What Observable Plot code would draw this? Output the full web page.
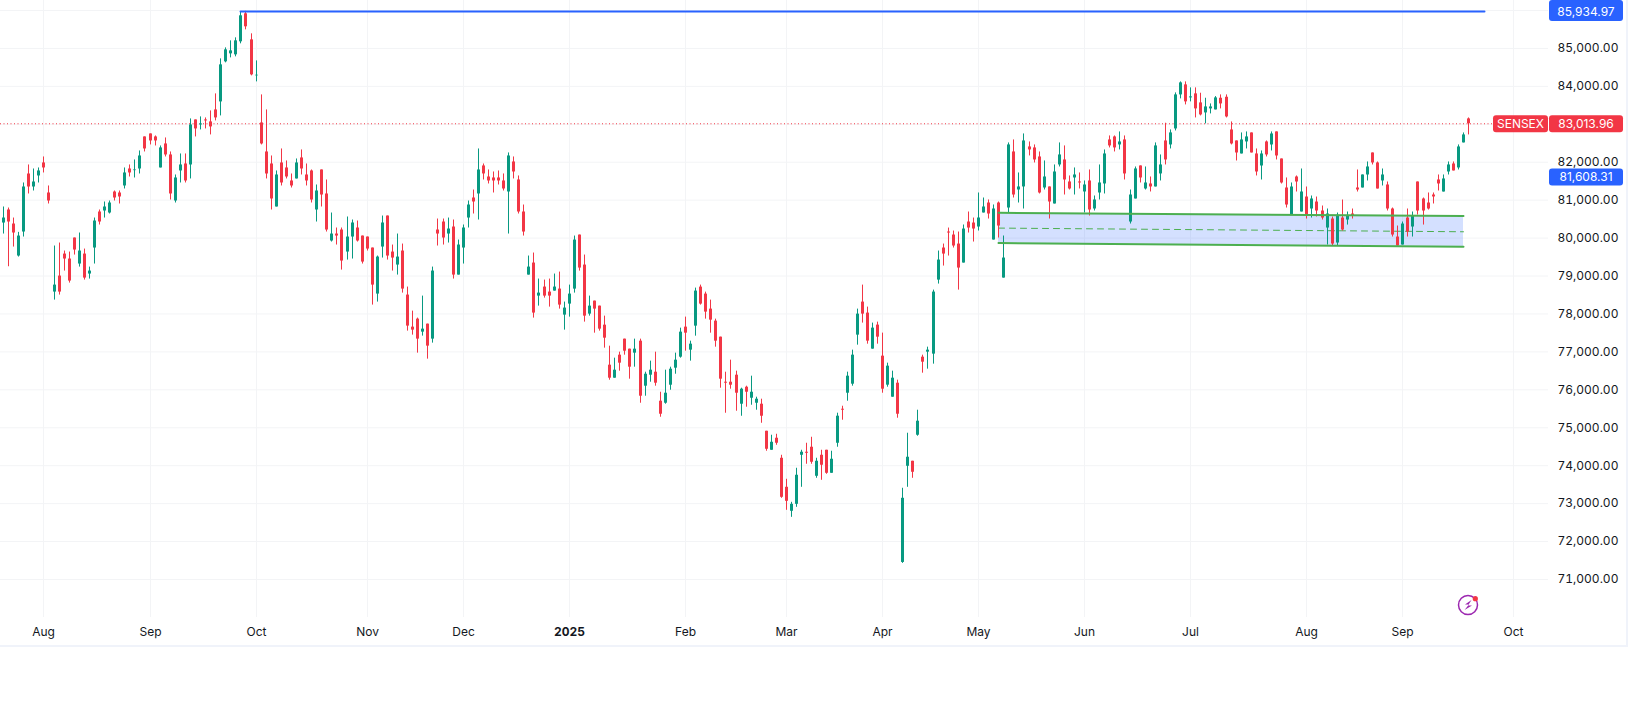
<!DOCTYPE html>
<html>
<head>
<meta charset="utf-8">
<script src="https://cdn.jsdelivr.net/npm/d3@7"></script>
<script src="https://cdn.jsdelivr.net/npm/@observablehq/plot@0.6"></script>
<style>
  body { margin: 0; background: #fff; }
  svg { display: block; }
</style>
</head>
<body>
<div id="chart"></div>
<script>
// daily SENSEX candles, one row of ten bars per line
const opens = [
  80397,80741,80371,79527,80160,81690,81347,81638,81981,81189,
  78577,78999,79579,79448,80002,79316,79579,79052,79738,80688,
  80714,80661,81215,81189,81374,81822,81778,81822,82667,82746,
  82667,81849,82482,82192,80978,81770,81954,81928,83115,82983,
  83115,83063,83379,83590,84646,84857,84831,85174,85913,85226,
  84277,83036,82271,81954,80820,81981,81849,81506,81559,82113,
  81664,81770,80741,81796,81163,79923,80107,80213,79632,80028,
  80266,80054,80028,79738,78524,79764,80582,79632,79289,79659,
  78498,77653,77864,77521,77732,77337,80213,80424,80107,80292,
  79025,79738,80529,81057,81163,81902,81611,81585,81585,81506,
  81216,82007,81532,80688,79025,79342,78471,78709,78577,78603,
  78656,77970,78260,78655,80080,79289,77996,78339,78207,77705,
  76650,76307,76914,77336,77072,76967,77283,76096,76386,76465,
  75700,75647,76122,76571,76861,77653,77046,77679,78708,78524,
  78128,77811,77389,76201,76201,76386,75621,76069,75779,75647,
  75621,74908,74407,74724,74196,73431,72798,72982,74275,74355,
  74487,73721,74275,74407,73800,74592,75489,75911,76149,77442,
  78313,78023,77073,77706,76888,76123,75806,76175,71450,73985,
  74117,74803,76861,76993,76941,78893,79738,80160,80081,79843,
  79342,80424,80397,80292,80662,80925,79949,80925,78946,80793,
  82271,81268,81348,82403,82377,82139,81321,81348,80899,81928,
  82060,81480,81585,81480,81216,81506,80767,81189,81427,82588,
  82667,82456,82588,80424,81031,81902,81295,81427,81348,81691,
  82561,82456,82878,83775,84039,83696,83802,83564,83300,83406,
  83379,83687,83713,82851,82561,82218,82535,82772,82218,81901,
  82535,82456,82799,82086,81321,80608,81611,80688,81083,80767,
  80951,80714,80265,80503,79870,80529,80476,80635,81321,81321,
  81664,82244,81981,81506,81400,80767,80028,79817,80529,80292,
  81479,81031,80925,81136,81532,81215,81743,81954,81849,82509,83142
];
const highs = [
  80820,80793,80529,80151,81453,81928,81822,81849,82139,81374,
  79791,79870,79659,79632,80002,80134,79711,79236,80529,80741,
  80952,80978,81242,81242,81849,81928,82060,82297,82667,82746,
  82693,82429,82640,82271,81664,82218,82218,83142,83115,83195,
  83168,83353,83802,84725,85015,85200,85279,85965,85978,85385,
  84672,83775,83379,82165,81770,82350,82034,81690,82086,82324,
  81954,81796,81400,81796,81532,80661,80266,80266,80556,80477,
  80450,80054,80028,79738,79527,80582,80582,79817,80107,79843,
  78709,78075,77891,78471,77732,79236,80503,80503,80529,80477,
  79949,80345,80978,81268,82350,81954,81796,81743,81770,81691,
  82245,82139,81638,80872,79527,79606,78920,78893,78920,79052,
  79104,78313,78761,80054,80080,79553,78471,78339,78207,77943,
  77151,76835,76993,77336,77072,77336,77336,76465,76756,76993,
  75937,76518,76597,76967,77626,77917,77283,78682,78761,78576,
  78365,77864,77389,76465,76782,76492,76043,76096,76360,75806,
  75753,74908,74803,74829,74275,73642,73035,73932,74407,74592,
  74750,74196,74407,74407,74381,75384,75568,76466,77046,78128,
  78761,78181,77759,77785,77495,76703,76492,76255,73405,74856,
  74117,75463,76914,77125,78629,79659,79843,80265,80186,80160,
  80345,80688,80529,81189,81057,81005,80873,80952,80055,82509,
  82588,81717,82746,82535,82456,82271,82034,81348,81928,82509,
  82430,81638,81849,81717,81506,81796,81110,81928,82324,82693,
  82693,82799,82693,81268,81875,81902,81875,81611,82509,82192,
  83028,82852,83828,84118,84118,83960,83960,83819,83687,83537,
  83731,83775,83775,83062,82561,82772,82799,82772,82350,82297,
  82561,82799,82799,82086,81585,81453,81638,81822,81347,81110,
  81083,80846,80767,80556,80661,81004,80688,80767,81796,81664,
  82007,82244,82007,81822,81479,80793,80318,80424,80767,80688,
  81479,81057,81189,81189,81664,81664,82007,82007,82456,82772,83168
];
const lows = [
  80107,79245,79764,79500,80028,81163,81242,81453,81717,80899,
  78366,78498,79131,78814,79553,79236,78893,78920,79316,80345,
  80529,80635,80978,80899,81295,81611,81585,81690,82271,82456,
  82429,81849,82139,81004,80925,81453,81453,81559,82667,82852,
  82878,82720,83089,83221,84620,84751,84778,85121,85490,84277,
  84118,82456,81559,80741,80820,81374,81559,81321,81559,81664,
  81374,80925,80424,80820,80160,79896,79817,79157,79421,79448,
  79896,79316,79659,78234,78313,79474,79421,79131,79025,78550,
  77548,77442,76967,77416,76809,77231,79791,79817,79870,78920,
  79025,79316,80266,80635,80477,81532,81427,81189,81400,81242,
  80107,81559,80635,80054,79025,77891,78207,78418,78181,78603,
  78128,77574,77917,78550,79130,77785,77943,77494,77547,77099,
  76254,76307,76492,76914,76281,76597,75647,75832,76201,76096,
  75278,75621,75990,76412,76835,77019,76756,77415,78233,77864,
  77494,77125,76043,75383,76017,75436,75304,75542,75594,75463,
  75119,74381,74407,74539,73140,72824,72639,72903,73431,74038,
  74038,73668,73616,73774,73800,74487,75199,75700,76096,77178,
  77759,77204,77073,77204,75911,76070,75806,75252,71425,73431,
  73668,74777,76439,76545,76677,78788,79263,79527,79738,78629,
  79342,80134,79896,80187,80662,80503,79949,80002,78946,80662,
  81057,80925,80767,82166,81981,81163,81268,80503,80899,81875,
  81136,81268,81136,81295,80662,80582,80714,81005,81163,82377,
  82271,82324,81532,80371,81031,81453,81268,81216,81348,81506,
  81928,82350,82825,83670,83511,83591,83168,83221,83010,83274,
  83379,83406,83168,82456,82033,82218,82350,82244,81638,81532,
  82139,82297,82060,81426,80793,80608,81215,80688,80503,80529,
  80556,80476,79817,79790,79790,80186,80344,80503,81215,81321,
  81506,81928,81294,81374,80714,80028,79790,79817,80028,80028,
  80608,80344,80740,80899,81242,81215,81664,81770,81796,82509,82720
];
const closes = [
  80529,80424,80134,80054,81347,81347,81479,81770,81849,80978,
  78761,78577,79448,78867,79685,79659,78946,79131,80450,80424,
  80820,80925,81057,81084,81717,81717,81796,82165,82350,82561,
  82561,82377,82192,81163,81585,81928,81506,82983,82878,83010,
  83089,82931,83168,84567,84963,84936,85200,85860,85570,84303,
  84294,82482,81690,81031,81664,81453,81611,81374,81981,81822,
  81506,81004,81242,81136,80213,80107,80054,79395,80028,80398,
  79923,79368,79711,78761,79500,80398,79527,79474,79500,78656,
  77680,77574,77337,77600,77152,79131,80107,80002,80239,79025,
  79817,80266,80872,80952,81796,81691,81506,81506,81506,81295,
  82166,81743,80688,80160,79236,78023,78550,78471,78471,78709,
  78234,78155,78524,79948,79210,77943,78207,78128,77600,77362,
  76307,76518,76703,77019,76597,77072,75832,76412,76518,76175,
  75357,75911,76544,76782,77521,77494,77204,78603,78260,78049,
  77837,77283,76281,76175,76122,75911,76017,75937,75937,75753,
  75304,74433,74618,74592,73167,73061,72982,73748,74355,74328,
  74091,74117,74012,73800,74170,75305,75463,76360,76914,77996,
  77996,77284,77627,77389,76017,76624,76307,75357,73141,74223,
  73827,75173,76729,77046,78577,79421,79579,80134,79791,79210,
  80239,80265,80239,80530,80820,80635,80767,80318,79474,82456,
  81136,81348,82561,82324,82060,81189,81611,80952,81743,82192,
  81532,81295,81664,81453,81400,80741,81005,81453,82218,82430,
  82377,82535,81691,81136,81823,81585,81453,81348,82430,81928,
  82060,82773,83775,84092,83591,83723,83406,83247,83458,83458,
  83696,83537,83194,82482,82244,82587,82667,82244,81743,82218,
  82192,82746,82165,81453,80872,81347,81479,81215,80582,81031,
  80714,80529,80635,79843,80600,80213,80582,80582,81268,81664,
  81875,81981,81294,81664,80767,80081,79790,80371,80160,80582,
  80714,80714,80767,81084,81427,81559,81928,81770,82403,82720,83014
];

// month ticks sit on the first bar of each month
const monthBars = [8, 29, 50, 72, 91, 112, 135, 155, 174, 193, 214, 235, 258, 277, 299];
const monthLabels = ["Aug", "Sep", "Oct", "Nov", "Dec", "2025", "Feb", "Mar", "Apr", "May", "Jun", "Jul", "Aug", "Sep", "Oct"];
const priceTicks = [71000, 72000, 73000, 74000, 75000, 76000, 77000, 78000, 79000, 80000, 81000, 82000, 83000, 84000, 85000, 86000];
// 83,000 and 86,000 are hidden behind the price tags
const labelledTicks = priceTicks.filter(d => d !== 83000 && d !== 86000);

// drawings on top of the candles
const lastPrice = 83013.96;
const highLineBars = [47, 293.2];
const highLineValues = [85975, 85975];
const channelBars = [197, 289];
const channelTop = [80668, 80581];
const channelMid = [80264, 80167];
const channelBottom = [79869, 79771];

const upColor = "#089981";
const downColor = "#f23645";
const blue = "#2962ff";
const green = "#4caf50";
const gridColor = "#f3f4f6";
const textColor = "#131722";

const bars = opens.map((open, i) => ({
  i,
  open,
  high: highs[i],
  low: lows[i],
  close: closes[i],
  dir: closes[i] >= open ? "up" : "down"
}));

const fmt = d3.format(",.2f");
const labelFor = (i) => monthLabels[monthBars.indexOf(i)];
const yearBar = monthBars[monthLabels.indexOf("2025")];

// coloured price tag in the right hand axis column
function priceTag(value, text, color, left, width, fromTop) {
  return (index, scales) => {
    const cy = scales.y(value) + 0.5;
    const top = fromTop ? 0 : cy - 8.5;
    const bottom = fromTop ? 21 : cy + 8.5;
    const g = d3.create("svg:g");
    g.append("rect")
      .attr("x", left).attr("y", top)
      .attr("width", width).attr("height", bottom - top)
      .attr("rx", 3).attr("fill", color);
    g.append("text")
      .attr("x", left + width / 2).attr("y", fromTop ? 11.5 : cy)
      .attr("text-anchor", "middle").attr("dy", "0.35em")
      .attr("fill", "#fff").text(text);
    return g.node();
  };
}

// little lightning logo near the bottom right
function logoMark() {
  const g = d3.create("svg:g").attr("transform", "translate(1468,605)");
  g.append("circle").attr("r", 9.5).attr("fill", "none").attr("stroke", "#9c27b0").attr("stroke-width", 1.5);
  g.append("path").attr("d", "M3.5-5 L-3 -0.5 L1 -0.5 L-3.5 5 L4 0.5 L0 0.5 Z").attr("fill", "#9c27b0");
  g.append("circle").attr("cx", 7.3).attr("cy", -6.3).attr("r", 2.6).attr("fill", downColor);
  return g.node();
}

// thin border around the chart panel
function panelBorder() {
  const g = d3.create("svg:g").attr("stroke", "#f0f3fa").attr("stroke-width", 2);
  g.append("line").attr("x1", 0).attr("x2", 1628).attr("y1", 646).attr("y2", 646);
  g.append("line").attr("x1", 1627).attr("x2", 1627).attr("y1", 0).attr("y2", 646);
  return g.node();
}

const chart = Plot.plot({
  width: 1638,
  height: 705,
  marginLeft: 0,
  marginTop: 0,
  marginRight: 90,
  marginBottom: 88,
  style: { background: "#fff", fontFamily: "Inter, sans-serif", fontSize: "12px", color: textColor },
  x: { domain: [0, 290], range: [3, 1468], round: true, label: null },
  y: { domain: [71000, 86000], range: [579, 10], label: null },
  color: { domain: ["up", "down"], range: [upColor, downColor] },
  marks: [
    panelBorder,
    Plot.ruleX(monthBars, { stroke: gridColor }),
    Plot.ruleY(priceTicks, { stroke: gridColor }),
    Plot.axisY(labelledTicks, { anchor: "right", tickSize: 0, tickPadding: 9, tickFormat: fmt, fill: textColor, label: null }),
    Plot.axisX(monthBars.filter(d => d !== yearBar), { anchor: "bottom", tickSize: 0, tickPadding: 9.5, tickFormat: labelFor, fill: textColor, label: null }),
    Plot.axisX([yearBar], { anchor: "bottom", tickSize: 0, tickPadding: 9.5, tickFormat: labelFor, fill: textColor, fontWeight: "bold", label: null }),

    Plot.areaY(channelBars, { x: channelBars, y1: channelTop, y2: channelBottom, fill: blue, fillOpacity: 0.2 }),
    Plot.lineY(channelMid, { x: channelBars, stroke: green, strokeWidth: 1, strokeDasharray: "6 5" }),

    Plot.ruleY([lastPrice], { x1: -0.6, x2: 294.9, stroke: downColor, strokeDasharray: "1 2.5" }),

    // wicks and bodies
    Plot.ruleX(bars, { x: "i", y1: "low", y2: "high", stroke: "dir", strokeWidth: 1 }),
    Plot.ruleX(bars, { x: "i", y1: "open", y2: "close", stroke: "dir", strokeWidth: 3 }),

    Plot.lineY(channelTop, { x: channelBars, stroke: green, strokeWidth: 2 }),
    Plot.lineY(channelBottom, { x: channelBars, stroke: green, strokeWidth: 2 }),
    Plot.lineY(highLineValues, { x: highLineBars, stroke: blue, strokeWidth: 2 }),

    priceTag(85934.97, "85,934.97", blue, 1549, 74, true),
    priceTag(81608.31, "81,608.31", blue, 1549, 74, false),
    priceTag(lastPrice, "SENSEX", downColor, 1493, 55, false),
    priceTag(lastPrice, "83,013.96", downColor, 1549, 74, false),
    logoMark
  ]
});

document.getElementById("chart").append(chart);
</script>
</body>
</html>
